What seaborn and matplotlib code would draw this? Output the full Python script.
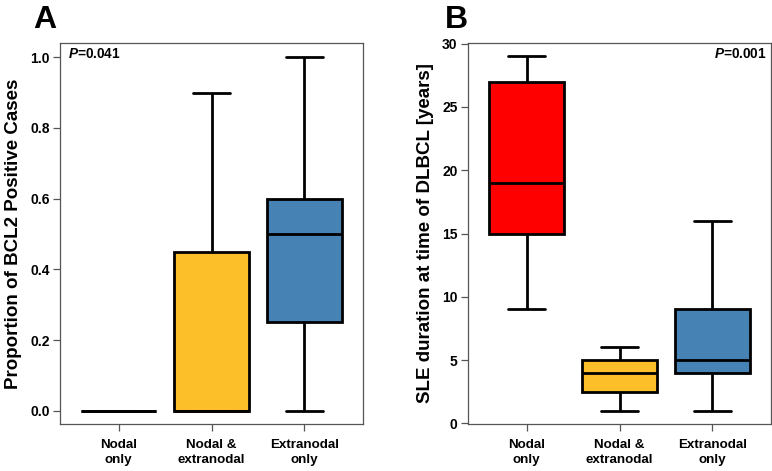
import matplotlib
matplotlib.use("Agg")
import matplotlib.pyplot as plt
import seaborn as sns
import pandas as pd

# ---- data (five-number summaries: min, Q1, median, Q3, max) ----
groups = ["Nodal only", "Nodal & extranodal", "Extranodal only"]
tick_labels = ["Nodal\nonly", "Nodal &\nextranodal", "Extranodal\nonly"]
colors = ["#FF0000", "#FCBF2A", "#4682B4"]

bcl2_nodal = [0.0, 0.0, 0.0, 0.0, 0.0]
bcl2_both = [0.0, 0.0, 0.0, 0.45, 0.90]
bcl2_extra = [0.0, 0.25, 0.50, 0.60, 1.00]

sle_nodal = [9, 15, 19, 27, 29]
sle_both = [1, 2.5, 4, 5, 6]
sle_extra = [1, 4, 5, 9, 16]

p_a = "0.041"
p_b = "0.001"

sns.set_theme(style="ticks")
plt.rcParams["font.family"] = ["Liberation Sans", "DejaVu Sans"]
plt.rcParams["mathtext.fontset"] = "custom"
plt.rcParams["mathtext.it"] = "Liberation Sans:italic:bold"
plt.rcParams["mathtext.rm"] = "Liberation Sans:bold"
plt.rcParams["text.color"] = "black"
plt.rcParams["axes.labelcolor"] = "black"
plt.rcParams["xtick.labelcolor"] = "black"
plt.rcParams["ytick.labelcolor"] = "black"


def long_df(vals):
    rows = []
    for g, v in zip(groups, vals):
        for x in v:
            rows.append({"group": g, "value": x})
    return pd.DataFrame(rows)


fig = plt.figure(figsize=(7.72, 4.71), dpi=100)
axA = fig.add_axes([60 / 772, 47 / 471, 303 / 772, 381 / 471])
axB = fig.add_axes([468 / 772, 47 / 471, 303 / 772, 381 / 471])

pal = dict(zip(groups, colors))


def draw(ax, df, ylim, yticks, yfmt, ylabel):
    sns.boxplot(data=df, x="group", y="value", hue="group", order=groups,
                hue_order=groups, palette=pal, whis=(0, 100), width=0.81,
                linecolor="black", linewidth=2.0, saturation=1, legend=False,
                showfliers=False, ax=ax)
    ax.set_xlim(-0.63, 2.63)
    ax.set_ylim(*ylim)
    ax.set_yticks(yticks)
    ax.set_yticklabels([yfmt.format(t) for t in yticks])
    ax.set_xticks(range(3))
    ax.set_xticklabels(tick_labels, linespacing=1.25)
    ax.set_xlabel("")
    ax.set_ylabel(ylabel, fontsize=13.5, fontweight="bold", labelpad=6)
    for s in ax.spines.values():
        s.set_visible(True)
        s.set_color("#555555")
        s.set_linewidth(0.9)
    ax.tick_params(axis="both", length=5, width=0.9, color="#555555",
                   direction="out")
    ax.tick_params(axis="y", labelsize=10, pad=2.5)
    ax.tick_params(axis="x", labelsize=9.6, pad=6)
    for lab in ax.get_xticklabels() + ax.get_yticklabels():
        lab.set_fontweight("bold")


draw(axA, long_df([bcl2_nodal, bcl2_both, bcl2_extra]), (-0.037, 1.04),
     [0.0, 0.2, 0.4, 0.6, 0.8, 1.0], "{:.1f}", "Proportion of BCL2 Positive Cases")
draw(axB, long_df([sle_nodal, sle_both, sle_extra]), (-0.05, 30.05),
     [0, 5, 10, 15, 20, 25, 30], "{:d}", "SLE duration at time of DLBCL [years]")

axA.text(0.026, 0.971, r"$P$=" + p_a, transform=axA.transAxes, ha="left",
         va="center", fontsize=9.8, fontweight="bold")
axB.text(0.987, 0.971, r"$P$=" + p_b, transform=axB.transAxes, ha="right",
         va="center", fontsize=9.8, fontweight="bold")

fig.text(33 / 772, 1 - 28 / 471, "A", fontsize=23, fontweight="bold", va="baseline")
fig.text(445 / 772, 1 - 28 / 471, "B", fontsize=23, fontweight="bold", va="baseline")

fig.savefig("out.png", dpi=100)
